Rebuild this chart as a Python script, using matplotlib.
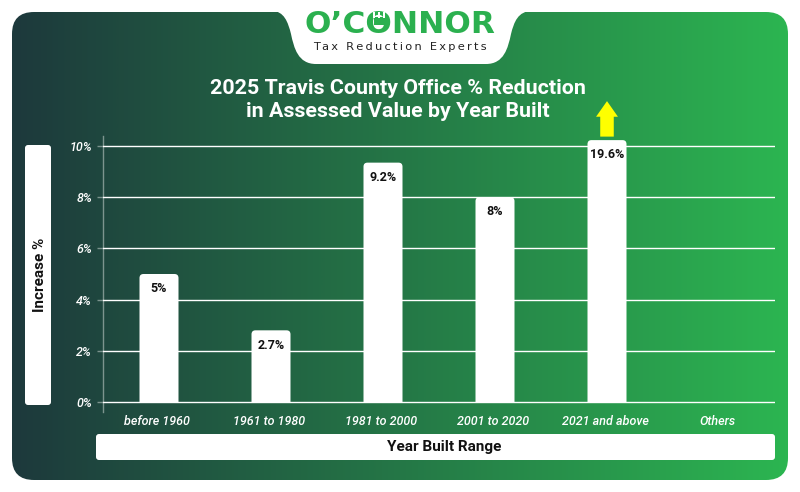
import numpy as np
import matplotlib
matplotlib.use("Agg")
import matplotlib.pyplot as plt
from matplotlib.patches import FancyBboxPatch, PathPatch, Rectangle
from matplotlib.path import Path
from matplotlib.colors import LinearSegmentedColormap
from matplotlib.transforms import ScaledTranslation

categories = ["before 1960", "1961 to 1980", "1981 to 2000", "2001 to 2020", "2021 and above", "Others"]
bar_heights = [5, 2.8, 9.35, 8, 19.6, None]
value_labels = ["5%", "2.7%", "9.2%", "8%", "19.6%", ""]
y_ticks = [0, 2, 4, 6, 8, 10]
y_tick_labels = ["0%", "2%", "4%", "6%", "8%", "10%"]
display_cap = 10.23
title = "2025 Travis County Office % Reduction\nin Assessed Value by Year Built"
x_title = "Year Built Range"
y_title = "Increase %"

FONT = "Roboto"
W, H = 800, 492
fig = plt.figure(figsize=(8, 4.92), dpi=100, facecolor="white")

# Pixel-space backdrop
bg = fig.add_axes([0, 0, 1, 1], zorder=0)
bg.set_xlim(0, W); bg.set_ylim(H, 0); bg.axis("off")
cmap = LinearSegmentedColormap.from_list("panel", ["#1d393c", "#2cb551"])
im = bg.imshow(np.linspace(0, 1, 400)[None, :], extent=(12, 788, 480, 12), cmap=cmap, aspect="auto", zorder=1)
panel = FancyBboxPatch((12 + 22, 12 + 22), 776 - 44, 468 - 44, boxstyle="round,pad=22,rounding_size=22",
                       fc="none", ec="none", transform=bg.transData)
bg.add_patch(panel)
im.set_clip_path(panel)
bg.set_xlim(0, W); bg.set_ylim(H, 0)

# White logo tab
tab = Path([(272, 11), (284, 11), (288, 22), (291, 34), (294, 48), (298, 64), (316, 64),
            (486, 64), (504, 64), (508, 48), (511, 34), (514, 22), (518, 11), (532, 11), (272, 11)],
           [Path.MOVETO, Path.CURVE4, Path.CURVE4, Path.CURVE4, Path.CURVE4, Path.CURVE4, Path.CURVE4,
            Path.LINETO, Path.CURVE4, Path.CURVE4, Path.CURVE4, Path.CURVE4, Path.CURVE4, Path.CURVE4,
            Path.CLOSEPOLY])
bg.add_patch(PathPatch(tab, fc="white", ec="none", zorder=2))


def white_box(x, y, w, h, r=3):
    bg.add_patch(FancyBboxPatch((x + r, y + r), w - 2 * r, h - 2 * r,
                                boxstyle=f"round,pad={r},rounding_size={r}", fc="white", ec="none", zorder=2))


white_box(25, 145, 26, 260)
white_box(96, 434, 679, 26)

GREEN = "#2bb04f"
bg.text(400, 24.5, "O\u2019CONNOR", family="DejaVu Sans", weight="bold", fontsize=22.5, color=GREEN,
        ha="center", va="center", zorder=3)
# key-shaped letter in the logo
bg.add_patch(Rectangle((374, 17), 15, 8, fc=GREEN, ec="none", zorder=4))
for nx in (372.5, 377.5, 382.5):
    bg.add_patch(Rectangle((nx, 12), 2.2, 6, fc="white", ec="none", zorder=5))
bg.text(400, 46.5, "\u200a\u200a".join("Tax Reduction Experts"), family="DejaVu Sans", fontsize=8.2, color="#222222",
        ha="center", va="center", zorder=3)
bg.text(398, 100, title, family=FONT, weight="bold", fontsize=15.4, color="white",
        ha="center", va="center", linespacing=1.33, zorder=3)
bg.text(40, 275, y_title, family=FONT, weight="bold", fontsize=11, color="#111111", rotation=90,
        ha="center", va="center", zorder=3)
bg.text(444, 447, x_title, family=FONT, weight="bold", fontsize=11, color="#111111",
        ha="center", va="center", zorder=3)

# Chart axes: x 103..775 px, y 136..412 px, 25.6 px per unit
ax = fig.add_axes([103 / W, (H - 412) / H, 672 / W, 276 / H], zorder=1)
ax.patch.set_alpha(0)
ax.set_xlim(-0.5, 5.5)
ax.set_ylim(-10 / 25.6, 266 / 25.6)
line_col = (1, 1, 1, 0.42)
for s in ("top", "right", "bottom"):
    ax.spines[s].set_visible(False)
ax.spines["left"].set_color(line_col)
ax.spines["left"].set_linewidth(1)
ax.set_yticks(y_ticks, y_tick_labels)
ax.set_xticks(range(len(categories)), categories)
ax.grid(axis="y", color=line_col, linewidth=1)
ax.set_axisbelow(True)
ax.tick_params(axis="y", length=4.3, width=1, color=line_col, pad=3.6, labelcolor="white", labelsize=9)
ax.tick_params(axis="x", length=0, pad=2.4, labelcolor="white", labelsize=9)
for lab in ax.get_xticklabels() + ax.get_yticklabels():
    lab.set_family(FONT); lab.set_style("italic"); lab.set_weight("medium")
shift = ScaledTranslation(-2 / 100, 0, fig.dpi_scale_trans)
for lab in ax.get_xticklabels():
    lab.set_transform(lab.get_transform() + shift)

half = 39 / 112 / 2
rx, ry = 4 / 112, 4 / 25.6
for i, v in enumerate(bar_heights):
    if v is None:
        continue
    top = min(v, display_cap)
    verts = [(i - half, 0), (i - half, top - ry), (i - half, top), (i - half + rx, top),
             (i + half - rx, top), (i + half, top), (i + half, top - ry), (i + half, 0), (i - half, 0)]
    codes = [Path.MOVETO, Path.LINETO, Path.CURVE3, Path.CURVE3, Path.LINETO, Path.CURVE3, Path.CURVE3,
             Path.LINETO, Path.CLOSEPOLY]
    ax.add_patch(PathPatch(Path(verts, codes), fc="white", ec="none", zorder=3))
    ax.annotate(value_labels[i], (i, top), xytext=(0, -10.6), textcoords="offset points", ha="center", va="center",
                family=FONT, weight="bold", fontsize=9, color="#111111", zorder=4)
    if v > display_cap:
        ax.annotate("", xy=(i, top + 39 / 25.6), xytext=(i, top + 3.5 / 25.6), annotation_clip=False,
                    arrowprops=dict(arrowstyle="simple,head_length=0.75,head_width=1.05,tail_width=0.65",
                                    fc="#ffff00", ec="#ffff00", lw=0, shrinkA=0, shrinkB=0, mutation_scale=15))

fig.savefig("out.png", dpi=100)
